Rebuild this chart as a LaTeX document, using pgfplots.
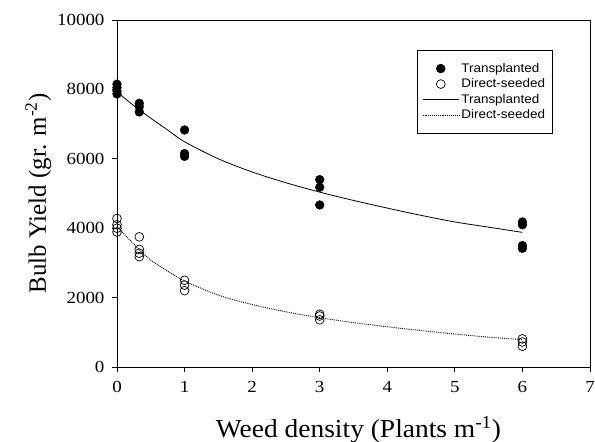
\documentclass[border=0pt]{standalone}
\usepackage{fontspec}
\setmainfont{Liberation Serif}
\newfontfamily\tickfont[FakeStretch=1.12]{Liberation Serif}
\newfontfamily\xlabfont[FakeStretch=1.06]{Liberation Serif}
\newfontfamily\legendfont[FakeStretch=1.08]{Liberation Sans}
\usepackage{pgfplots}
\pgfplotsset{compat=1.18}
\pgfplotsset{
  markleg/.style={legend image code/.code={\draw[mark repeat=2,mark phase=2,##1] plot coordinates {(0cm,0cm) (0.64cm,0cm) (1.28cm,0cm)};}},
  lineleg/.style={legend image code/.code={\draw[##1] (0cm,0cm) -- (1.28cm,0cm);}},
}

\begin{document}
\begin{tikzpicture}
\useasboundingbox (-117bp,-75bp) rectangle (478bp,367bp);
\begin{axis}[
  at={(0,0)}, anchor=south west,
  scale only axis,
  width=473bp, height=347bp,
  xmin=0, xmax=7,
  ymin=0, ymax=10000,
  xtick={0,1,2,3,4,5,6,7},
  ytick={0,2000,4000,6000,8000,10000},
  scaled y ticks=false,
  /pgf/number format/assume math mode=true,
  /pgf/number format/1000 sep={},
  tick align=outside,
  tick pos=left,
  major tick length=5bp,
  tick style={black, line width=0.8bp},
  axis line style={line width=0.8bp},
  ticklabel style={font=\tickfont\fontsize{17}{17}\selectfont},
  xticklabel style={yshift=-6bp},
  yticklabel style={xshift=-4bp},
  xlabel={Weed density (Plants m\textsuperscript{-1})},
  ylabel={Bulb Yield (gr. m\textsuperscript{-2})},
  xlabel style={font=\xlabfont\fontsize{26}{28}\selectfont, yshift=-17bp, xshift=5bp},
  ylabel style={font=\fontsize{25}{27}\selectfont, yshift=-1bp},
  clip=false,
  legend cell align=left,
  legend style={at={(0.634,0.9135)}, anchor=north west,
    font=\legendfont\fontsize{12.5}{14}\selectfont,
    draw=black, line width=0.6bp, row sep=1bp,
    inner xsep=5bp, inner ysep=11bp},
]
\addplot[only marks, mark=*, mark size=4.4bp, black, markleg]
coordinates {
(0,8150) (0,8050) (0,7950) (0,7870)
(0.33,7600) (0.33,7500) (0.33,7350)
(1,6830) (1,6150) (1,6070)
(3,5400) (3,5180) (3,4670)
(6,4180) (6,4100) (6,3500) (6,3420)
};
\addlegendentry{Transplanted}

\addplot[only marks, mark=o, mark size=4.4bp, black, mark options={line width=0.7bp}, markleg]
coordinates {
(0,4280) (0,4100) (0,4000) (0,3890)
(0.33,3750) (0.33,3390) (0.33,3280) (0.33,3180)
(1,2500) (1,2360) (1,2200)
(3,1520) (3,1470) (3,1360)
(6,810) (6,720) (6,600)
};
\addlegendentry{Direct-seeded}

\addplot[black, line width=0.8bp, smooth, no marks, lineleg]
coordinates {
(0,7930) (0.25,7530) (0.5,7170) (0.75,6830) (1,6490)
(1.5,6000) (2,5620) (2.5,5310) (3,5040) (3.5,4800)
(4,4580) (4.5,4370) (5,4180) (5.5,4030) (6,3880)
};
\addlegendentry{Transplanted}

\addplot[black, line width=0.9bp, densely dotted, smooth, no marks, lineleg]
coordinates {
(0,4050) (0.17,3700) (0.33,3380) (0.5,3080) (0.75,2760) (1,2480)
(1.5,2070) (2,1800) (2.5,1590) (3,1420) (3.5,1280)
(4,1160) (4.5,1050) (5,950) (5.5,860) (6,790)
};
\addlegendentry{Direct-seeded}
\end{axis}
\end{tikzpicture}
\end{document}
